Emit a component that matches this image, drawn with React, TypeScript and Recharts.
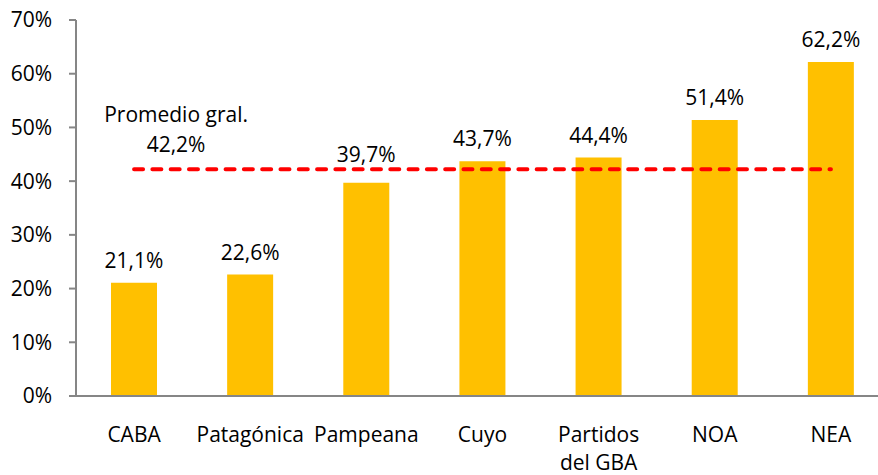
import { ComposedChart, Bar, Line, XAxis, YAxis, LabelList } from 'recharts'

const regiones = ['CABA', 'Patagónica', 'Pampeana', 'Cuyo', 'Partidos del GBA', 'NOA', 'NEA']
const porcentajes = [21.1, 22.6, 39.7, 43.7, 44.4, 51.4, 62.2]
const promedioGral = 42.2
const yTicks = [0, 10, 20, 30, 40, 50, 60, 70]
const limites = [0, 1, 2, 3, 4, 5, 6, 7]

const data = regiones.map((region, i) => ({
  region,
  valor: porcentajes[i],
  promedio: promedioGral,
}))

const FONT = '"Open Sans", sans-serif'
const FS = 21
const fmt = (v: number) => `${v.toFixed(1).replace('.', ',')}%`

// labels like "Partidos del GBA" go on two lines
const RegionTick = (props: any) => {
  const { x, y, payload } = props
  const words: string[] = payload.value.split(' ')
  const lines = words.length > 2 ? [words[0], words.slice(1).join(' ')] : [payload.value]
  return (
    <text x={x} y={y + 38} textAnchor="middle" fontFamily={FONT} fontSize={FS} fill="#000">
      {lines.map((l, i) => (
        <tspan key={l} x={x} dy={i === 0 ? 0 : 28}>
          {l}
        </tspan>
      ))}
    </text>
  )
}

// bar value label; pushed above the average line when it would sit on it
const ValorLabel = (props: any) => {
  const { x, y, width, height, value } = props
  const cx = x + width / 2
  const base = y + height
  const lineY = base - (promedioGral * height) / value
  let ty = y - 15
  if (ty > lineY - 7.5 && ty - 16 < lineY + 2) ty = lineY - 7.5
  return (
    <text x={cx} y={ty} textAnchor="middle" fontFamily={FONT} fontSize={FS} fill="#000">
      {fmt(value)}
    </text>
  )
}

const PromedioLabel = (props: any) => {
  const { x, y, index } = props
  if (index !== 0) return null
  return (
    <text fontFamily={FONT} fontSize={FS} fill="#000" textAnchor="middle">
      <tspan x={x + 42} y={y - 47.5}>Promedio gral.</tspan>
      <tspan x={x + 42} y={y - 17.5}>{fmt(promedioGral)}</tspan>
    </text>
  )
}

export default function App() {
  return (
    <div style={{ position: 'absolute', left: 0, top: 0, width: 878, height: 475, overflow: 'hidden' }}>
      <ComposedChart
        width={900}
        height={475}
        data={data}
        margin={{ top: 20, right: 11, bottom: 0, left: 10 }}
      >
        <XAxis
          xAxisId="num"
          type="number"
          domain={[0, 7]}
          ticks={limites}
          allowDataOverflow
          tick={false}
          axisLine={false}
          tickLine={{ stroke: '#868686', strokeWidth: 2 }}
          tickSize={6}
          height={0}
        />
        <XAxis
          xAxisId="cat"
          dataKey="region"
          interval={0}
          tickLine={false}
          axisLine={{ stroke: '#868686', strokeWidth: 2 }}
          tick={<RegionTick />}
          height={79}
        />
        <YAxis
          domain={[0, 70]}
          ticks={yTicks}
          tickFormatter={(v) => `${v}%`}
          axisLine={{ stroke: '#868686', strokeWidth: 2 }}
          tickLine={{ stroke: '#868686', strokeWidth: 2 }}
          tickSize={7}
          tickMargin={17}
          tick={{ fontFamily: FONT, fontSize: FS, fill: '#000' }}
          width={66}
        />
        <Bar xAxisId="cat" dataKey="valor" fill="#FFC000" barSize={46} isAnimationActive={false}>
          <LabelList dataKey="valor" content={<ValorLabel />} />
        </Bar>
        <Line
          xAxisId="cat"
          dataKey="promedio"
          stroke="#FF0000"
          strokeWidth={4}
          strokeDasharray="9 9.3"
          strokeLinecap="round"
          dot={false}
          activeDot={false}
          isAnimationActive={false}
        >
          <LabelList dataKey="promedio" content={<PromedioLabel />} />
        </Line>
      </ComposedChart>
    </div>
  )
}
